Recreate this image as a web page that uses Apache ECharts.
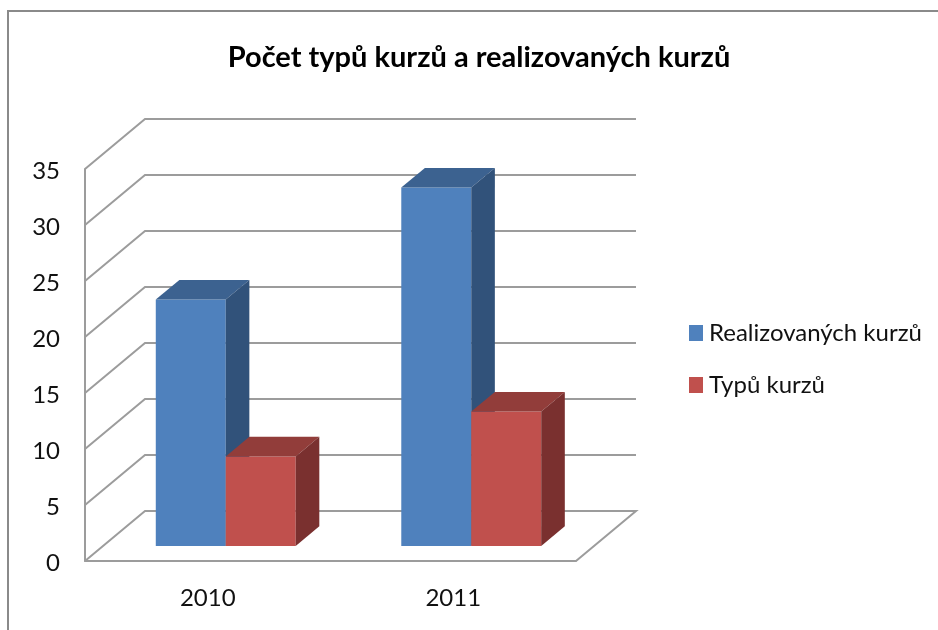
<!DOCTYPE html>
<html>
<head>
<meta charset="utf-8">
<style>html,body{margin:0;padding:0;background:#fff}#c{width:938px;height:630px;filter:blur(0.45px)}</style>
<script src="https://cdn.jsdelivr.net/npm/echarts@6/dist/echarts.min.js"></script>
</head>
<body>
<div id="c"></div>
<script>
const titleText = 'Počet typů kurzů a realizovaných kurzů';
const categories = ['2010', '2011'];
const realizovanychName = 'Realizovaných kurzů';
const typuName = 'Typů kurzů';
const realizovanych = [22, 32];
const typu = [8, 12];
const yTicks = [0, 5, 10, 15, 20, 25, 30, 35];

const FONT = 'Lato';
const GRID = '#9c9c9c';
const WALL_DX = 60, WALL_DY = -50;
const BAR_DX = 18, BAR_DY = -15;
const BOX_DX = 23.6, BOX_DY = -19.7;
const BAR_W = 0.285;

function wallItem(params, api) {
  const cs = params.coordSys;
  const y = api.coord([0, api.value(0)])[1];
  const x0 = cs.x, x1 = cs.x + cs.width;
  const pts = [[x0, y], [x0 + WALL_DX, y + WALL_DY], [x1 + WALL_DX, y + WALL_DY]];
  if (api.value(0) === 0) pts.push([x1, y]);
  return {
    type: 'polyline', silent: true,
    shape: { points: pts },
    style: { fill: null, stroke: GRID, lineWidth: 2 }
  };
}

function barRenderer(offsetBands, front, top, side) {
  return function (params, api) {
    const p = api.coord([api.value(0), api.value(1)]);
    const p0 = api.coord([api.value(0), 0]);
    const w = api.size([1, 0])[0] * BAR_W;
    const xl = p[0] + BAR_DX + offsetBands * w;
    const xr = xl + w;
    const yt = p[1] + BAR_DY;
    const yb = p0[1] + BAR_DY;
    return {
      type: 'group',
      children: [
        { type: 'polygon', shape: { points: [[xl, yb], [xr, yb], [xr, yt], [xl, yt]] }, style: { fill: front } },
        { type: 'polygon', shape: { points: [[xl, yt], [xr, yt], [xr + BOX_DX, yt + BOX_DY], [xl + BOX_DX, yt + BOX_DY]] }, style: { fill: top } },
        { type: 'polygon', shape: { points: [[xr, yb], [xr + BOX_DX, yb + BOX_DY], [xr + BOX_DX, yt + BOX_DY], [xr, yt]] }, style: { fill: side } }
      ]
    };
  };
}

const chart = echarts.init(document.getElementById('c'), null, { renderer: 'canvas' });
chart.setOption({
  animation: false,
  backgroundColor: '#ffffff',
  textStyle: { fontFamily: FONT },
  title: {
    text: titleText, left: 474, top: 38, textAlign: 'center',
    textStyle: { fontFamily: FONT, fontSize: 29, fontWeight: 'bold', color: '#000000' }
  },
  legend: {
    left: 689, top: 321, padding: 0, orient: 'vertical', itemWidth: 14, itemHeight: 16, itemGap: 28,
    icon: 'rect',
    data: [realizovanychName, typuName],
    textStyle: { fontFamily: FONT, fontSize: 24, color: '#111111', padding: [0, 0, 0, 1] }
  },
  grid: { left: 85, top: 169, width: 491, height: 392 },
  xAxis: {
    type: 'category', data: categories,
    axisLine: { lineStyle: { color: GRID, width: 2 } },
    axisTick: { show: false },
    axisLabel: { fontFamily: FONT, fontSize: 24, color: '#111111', margin: 25 }
  },
  yAxis: {
    type: 'value', min: 0, max: 35, interval: 5,
    axisLine: { show: true, lineStyle: { color: GRID, width: 2 } },
    axisTick: { show: false },
    splitLine: { show: false },
    axisLabel: {
      margin: 25, formatter: '{a|{value}}',
      rich: { a: { fontFamily: FONT, fontSize: 24, color: '#111111', padding: [5, 0, 0, 0] } }
    }
  },
  graphic: [
    { type: 'polyline', shape: { points: [[8, 630], [8, 11], [938, 11]] }, style: { fill: null, stroke: '#8a8a8a', lineWidth: 2 }, silent: true }
  ],
  series: [
    { type: 'custom', silent: true, z: 1, coordinateSystem: 'cartesian2d', data: yTicks.map(v => [v]), encode: { y: 0 }, renderItem: wallItem },
    { type: 'custom', name: realizovanychName, z: 2, itemStyle: { color: '#4F81BD' }, encode: { x: 0, y: 1 },
      data: categories.map((c, i) => [i, realizovanych[i]]),
      renderItem: barRenderer(-1, '#4F81BD', '#3C6290', '#31527A') },
    { type: 'custom', name: typuName, z: 3, itemStyle: { color: '#C0504D' }, encode: { x: 0, y: 1 },
      data: categories.map((c, i) => [i, typu[i]]),
      renderItem: barRenderer(0, '#C0504D', '#923D3A', '#7A302F') }
  ]
});
</script>
</body>
</html>
